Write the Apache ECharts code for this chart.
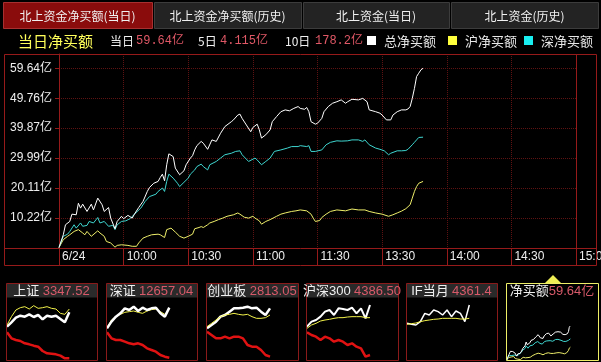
<!DOCTYPE html>
<html><head><meta charset="utf-8">
<script src="https://cdn.jsdelivr.net/npm/echarts@6/dist/echarts.min.js"></script>
<style>html,body{margin:0;padding:0;background:#000;}#c{width:601px;height:362px;}</style>
</head><body><div id="c"></div>
<script>
// ---------- data ----------
const tabs = ['北上资金净买额(当日)', '北上资金净买额(历史)', '北上资金(当日)', '北上资金(历史)'];
const statNames = ['当日', '5日', '10日'];
const statValues = ['59.64亿', '4.115亿', '178.2亿'];
const legendNames = ['总净买额', '沪净买额', '深净买额'];
const xLabels = ['6/24', '10:00', '10:30', '11:00', '11:30', '13:30', '14:00', '14:30', '15:00'];
const yTicks = [10.22, 20.11, 29.99, 39.87, 49.76, 59.64];
const yMin = 0.34;

// minutes since 9:30 (lunch break removed) and 亿元
const totalT = [0,2,3,5,6,8,9,10,11,13,15,16,18,20,21,23,24,26,27,29,30,32,34,35,37,39,41,42,44,46,47,48,49,50,51,53,54,56,58,59,61,62,63,64,66,67,69,71,73,75,77,80,81,83,84,85,87,89,90,92,93,94,96,98,99,101,103,105,107,109,111,112,114,115,116,117,119,120,122,123,125,127,129,131,133,134,136,139,141,143,144,147,149,150,152,154,155,157,159,161,162,163,164,165,166,167,168,169];
const totalV = [0.5,4.7,8.0,9.1,11.5,11.3,15.1,13.5,14.8,12.4,14.8,12.9,16.8,14.6,12.4,13.7,10.2,6.7,9.1,10.8,10.0,11.1,10.2,11.5,13.7,15.7,19.0,20.3,21.7,22.3,23.6,24.7,22.5,27.8,31.4,30.5,26.7,24.5,25.8,27.8,30.0,30.8,32.7,34.1,35.5,34.9,32.9,36.0,35.5,38.2,40.4,42.0,42.6,44.2,44.5,43.1,40.9,38.7,40.1,41.2,39.3,36.6,37.7,39.3,42.0,43.7,45.3,45.9,45.6,46.4,47.0,46.4,46.1,46.7,45.3,42.0,41.2,41.5,43.1,45.3,47.0,48.1,48.6,49.2,48.1,48.6,49.4,49.2,49.7,48.6,45.9,45.3,44.8,44.2,42.6,42.6,44.2,45.3,45.9,45.9,46.2,47.0,49.7,53.0,56.9,58.0,59.1,59.64];

const szT = [0,2,4,5,7,8,10,11,13,14,16,18,19,21,23,25,26,27,29,31,33,35,38,40,42,45,46,48,49,50,51,53,55,56,58,60,61,63,64,66,67,69,70,73,75,77,80,82,84,85,88,91,92,94,96,98,100,103,106,108,111,112,115,116,117,119,122,124,126,129,131,134,136,139,141,142,144,147,149,151,153,154,157,159,161,162,164,165,166,167,169];
const szV = [0.5,4.2,4.9,5.8,8.0,6.9,8.6,7.5,7.8,9.1,8.6,10.4,8.6,9.1,7.5,7.8,6.4,8.0,9.1,9.3,10.0,11.5,13.5,15.7,17.3,18.1,19.0,20.1,19.0,22.3,24.7,23.4,21.7,20.6,22.0,23.4,24.7,26.1,27.2,28.0,27.2,26.1,27.8,28.9,30.0,31.1,31.6,32.2,32.4,31.1,28.9,30.0,29.4,27.8,28.9,30.0,32.2,32.7,33.3,33.8,33.8,34.1,33.8,34.1,32.2,32.2,32.7,34.4,35.2,35.7,35.6,35.7,36.0,36.0,35.5,36.0,34.4,33.3,32.9,32.4,31.1,31.6,32.4,32.4,32.5,32.9,34.4,35.2,36.0,36.8,36.9];

const shT = [0,2,4,5,7,9,11,12,13,15,18,19,21,22,24,26,27,29,32,34,36,37,39,41,43,46,47,49,50,52,54,56,58,60,62,63,65,66,67,69,70,72,74,76,78,81,83,84,86,88,90,91,93,94,96,98,101,103,105,108,110,112,115,117,118,119,121,122,124,126,129,133,136,139,142,144,147,150,153,155,157,159,161,163,164,165,166,167,169];
const shV = [0.5,3.1,4.2,4.7,5.8,6.4,5.3,4.7,5.8,4.2,6.0,5.3,4.2,2.5,2.0,0.6,1.2,1.4,1.2,0.9,0.9,2.0,3.6,4.2,4.7,4.9,4.7,3.8,6.4,6.9,5.6,4.2,3.6,4.2,4.9,6.7,7.1,7.4,7.1,8.0,8.6,9.1,9.7,10.2,10.8,11.3,11.9,11.5,10.5,10.2,10.8,10.2,9.3,8.2,9.1,9.7,10.8,11.5,11.9,12.4,12.6,12.9,12.6,11.5,10.2,9.1,9.4,10.4,11.5,12.4,12.9,12.6,13.2,12.9,12.9,12.4,11.9,11.5,10.8,11.3,11.9,12.5,13.3,14.6,16.8,19.0,20.6,21.7,22.3];

const miniNames = ['上证', '深证', '创业板', '沪深300', 'IF当月', '净买额'];
const miniValues = ['3347.52', '12657.04', '2813.05', '4386.50', '4361.4', '59.64亿'];
const miniT = [0,12,24,36,48,60,72,84,96,108,120,132,144,156,168];
const shzWhite = [103,116,130,136,133,140,132,138,125,136,133,136,126,116,146];
const shzYellow = [108,133,153,160,163,156,166,158,160,163,158,156,143,140,156];
const shzRed = [86,68,63,60,53,50,46,43,30,23,22,20,16,8,8];
const szzWhite = [98,118,133,143,158,153,163,150,160,153,158,160,143,133,160];
const szzYellow = [100,123,133,140,146,148,150,146,143,150,154,156,148,140,156];
const szzRed = [86,68,63,63,58,53,50,53,48,38,33,28,18,13,10];
const cybWhite = [98,108,118,133,138,148,158,158,160,163,158,160,148,138,158];
const cybYellow = [103,113,123,133,138,140,143,140,138,140,133,128,128,130,138];
const cybRed = [88,78,68,68,73,68,73,73,68,48,43,43,33,18,13];
const hs3White = [103,118,123,133,148,153,138,158,156,153,160,143,158,128,168];
const hs3Yellow = [98,108,113,120,123,125,128,130,130,132,133,133,133,130,130];
const hs3Red = [86,78,73,63,73,68,58,63,58,48,53,43,38,13,18];
const ifWhite = [113,110,108,118,143,138,153,148,138,153,133,150,143,118,168];
const ifYellow = [110,112,114,118,121,123,125,126,128,128,128,128,126,126,128];

// ---------- build ----------
const pairs = (t, v) => t.map((m, i) => [m, v[i]]);
const FRAME = '#961a1a';
const GRIDC = '#5e1212';
const FONT = 'Liberation Sans, "Noto Sans CJK SC", sans-serif';
const MONO = '"Liberation Mono", "Noto Sans CJK SC", monospace';
const CJK = '"Noto Sans CJK SC", sans-serif';
const C_WHITE = '#ffffff', C_CYAN = '#3fd6d0', C_YELLOW = '#eeee6a', C_RED = '#e01212';

const panels = [[6,91],[106,91],[206,92],[306,92],[406,91],[506,92]];
const miniSets = [
  [[shzWhite,C_WHITE,2.5],[shzYellow,'#f2f24a',1],[shzRed,C_RED,2.5]],
  [[szzYellow,'#f2f24a',1],[szzWhite,C_WHITE,2.5],[szzRed,C_RED,2.5]],
  [[cybWhite,C_WHITE,2.5],[cybYellow,'#f2f24a',1],[cybRed,C_RED,2.5]],
  [[hs3White,C_WHITE,2],[hs3Yellow,'#f2f24a',1],[hs3Red,C_RED,2.5]],
  [[ifWhite,C_WHITE,1.5],[ifYellow,'#f2f24a',1]]
];

const grids = [{left:59, right:25, top:54, bottom:114, outerBoundsMode:'none', containLabel:false}];
const xAxes = [{
  type:'value', gridIndex:0, min:0, max:240, interval:30,
  axisLine:{show:false},
  axisTick:{show:true, length:17, lineStyle:{color:FRAME, width:1}},
  axisLabel:{formatter:v => xLabels[Math.round(v/30)], align:'left', padding:[0,0,0,3], margin:3,
             color:'#eeeeee', fontSize:12, fontFamily:FONT, showMinLabel:true, showMaxLabel:true, hideOverlap:false},
  splitLine:{show:true, lineStyle:{color:GRIDC, type:'dotted', width:1}}
}];
const yAxes = [{
  type:'value', gridIndex:0, min:yMin, max:64.34,
  axisLine:{show:true, lineStyle:{color:FRAME}},
  axisTick:{show:true, customValues:yTicks, length:4, lineStyle:{color:FRAME}},
  axisLabel:{customValues:yTicks, formatter:v => v.toFixed(2) + '亿', color:'#eeeeee', fontSize:12, margin:7, fontFamily:FONT},
  splitLine:{show:true, lineStyle:{color:GRIDC, type:'dotted', width:1}}
}];
const series = [
  {type:'line', xAxisIndex:0, yAxisIndex:0, data:pairs(shT, shV), showSymbol:false, lineStyle:{color:C_YELLOW, width:1}, z:3},
  {type:'line', xAxisIndex:0, yAxisIndex:0, data:pairs(szT, szV), showSymbol:false, lineStyle:{color:C_CYAN, width:1}, z:4},
  {type:'line', xAxisIndex:0, yAxisIndex:0, data:pairs(totalT, totalV), showSymbol:false, lineStyle:{color:C_WHITE, width:1}, z:5}
];

panels.forEach((p, i) => {
  const gi = i + 1;
  grids.push({left:p[0]+1, width:p[1]-2, top:297, height: i === 5 ? 63 : 64, outerBoundsMode:'none', containLabel:false});
  xAxes.push({type:'value', gridIndex:gi, min:0, max:240, show:false});
  yAxes.push(i === 5 ? {type:'value', gridIndex:gi, min:0, max:110, show:false}
                     : {type:'value', gridIndex:gi, min:0, max:192, show:false});
  if (i < 5) {
    miniSets[i].forEach(s => series.push({type:'line', xAxisIndex:gi, yAxisIndex:gi, data:pairs(miniT, s[0]),
      showSymbol:false, lineStyle:{color:s[1], width:s[2]}, z:3}));
  } else {
    series.push({type:'line', xAxisIndex:gi, yAxisIndex:gi, data:pairs(shT, shV), showSymbol:false, lineStyle:{color:C_YELLOW, width:1}, z:3});
    series.push({type:'line', xAxisIndex:gi, yAxisIndex:gi, data:pairs(szT, szV), showSymbol:false, lineStyle:{color:C_CYAN, width:1}, z:4});
    series.push({type:'line', xAxisIndex:gi, yAxisIndex:gi, data:pairs(totalT, totalV), showSymbol:false, lineStyle:{color:C_WHITE, width:1}, z:5});
  }
});

// ---------- decorations ----------
const g = [];
const tabX = [[3,149],[154,147],[303,146],[451,147]];
tabs.forEach((t, i) => {
  const sel = i === 0;
  g.push({type:'rect', shape:{x:tabX[i][0]+0.5, y:2.5, width:tabX[i][1], height:26},
    style:{fill: sel ? '#8a0c0c' : '#232323', stroke: sel ? '#a83030' : '#3c3c3c', lineWidth:1}, z:0});
  g.push({type:'text', x:tabX[i][0] + tabX[i][1]/2, y:16,
    style:{text:t, fill:'#f0f0f0', font:'12px ' + CJK, textAlign:'center', textVerticalAlign:'middle'}, z:1});
});
g.push({type:'text', x:18, y:41, style:{text:'当日净买额', fill:'#ffff5a', font:'15px ' + CJK, textVerticalAlign:'middle'}});
const statX = [[110,136],[198,220],[285,315]];
statNames.forEach((n, i) => {
  g.push({type:'text', x:statX[i][0], y:41, style:{text:n, fill:'#f0f0f0', font:'12px ' + CJK, textVerticalAlign:'middle'}});
  g.push({type:'text', x:statX[i][1], y:41, style:{text:statValues[i], fill:'#e05866', font:'12px ' + MONO, textVerticalAlign:'middle'}});
});
const legX = [367, 448, 524];
const legC = ['#ffffff', '#ffff3c', '#19eef0'];
legendNames.forEach((n, i) => {
  g.push({type:'rect', shape:{x:legX[i], y:36, width:9, height:9}, style:{fill:legC[i]}});
  g.push({type:'text', x:legX[i]+17, y:41, style:{text:n, fill:'#e8e8e8', font:'13px ' + CJK, textVerticalAlign:'middle'}});
});
// main frame
g.push({type:'rect', shape:{x:4.5, y:54.5, width:592, height:211}, style:{fill:'none', stroke:FRAME, lineWidth:1}, z:10});
g.push({type:'line', shape:{x1:4, y1:248.5, x2:597, y2:248.5}, style:{stroke:FRAME, lineWidth:1}, z:10});
g.push({type:'line', shape:{x1:576.5, y1:54, x2:576.5, y2:249}, style:{stroke:FRAME, lineWidth:1}, z:10});
// mini panels
panels.forEach((p, i) => {
  const act = i === 5;
  g.push({type:'rect', shape:{x:p[0]+0.5, y:283.5, width:p[1], height:14}, style:{fill: act ? '#000000' : '#2a2a2a'}, z:0});
  g.push({type:'rect', shape:{x:p[0]+0.5, y:283.5, width:p[1], height:77}, style:{fill:'none', stroke: act ? '#eeee66' : '#8a1a1a', lineWidth:1}, z:10});
  g.push({type:'text', x:p[0] + p[1]/2, y:291, style:{
    text:'{a|' + miniNames[i] + '}' + (act ? '' : ' ') + '{b|' + miniValues[i] + '}', textAlign:'center', textVerticalAlign:'middle',
    rich:{a:{fill:'#f0f0f0', font:'13px ' + FONT}, b:{fill:'#d85a6a', font:'13px ' + FONT}}}, z:11});
});
g.push({type:'polygon', shape:{points:[[545,283],[561,283],[553,275]]}, style:{fill:'#eeee55'}, z:11});

const chart = echarts.init(document.getElementById('c'), null, {renderer:'canvas'});
chart.setOption({
  backgroundColor:'#000000',
  animation:false,
  grid:grids, xAxis:xAxes, yAxis:yAxes, series:series, graphic:g
});
</script></body></html>
